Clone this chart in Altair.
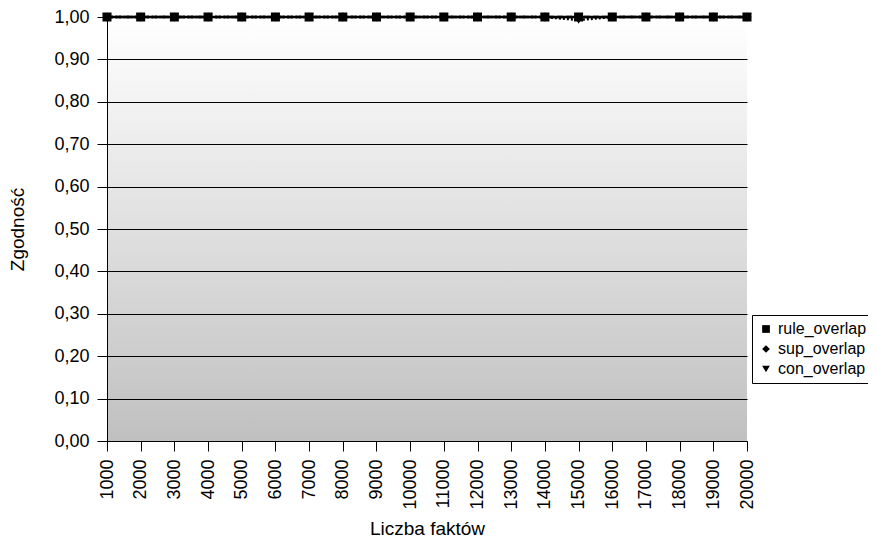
import altair as alt
import pandas as pd

facts = [1000, 2000, 3000, 4000, 5000, 6000, 7000, 8000, 9000, 10000,
         11000, 12000, 13000, 14000, 15000, 16000, 17000, 18000, 19000, 20000]
rule_overlap = [1.00] * 20
sup_overlap = [1.00] * 20
con_overlap = [1.00, 1.00, 1.00, 1.00, 1.00, 1.00, 1.00, 1.00, 1.00, 1.00,
               1.00, 1.00, 1.00, 1.00, 0.993, 1.00, 1.00, 1.00, 1.00, 1.00]
series_names = ["rule_overlap", "sup_overlap", "con_overlap"]
y_ticks = [0.0, 0.1, 0.2, 0.3, 0.4, 0.5, 0.6, 0.7, 0.8, 0.9, 1.0]

rows = []
for name, vals, order in [("con_overlap", con_overlap, 0),
                          ("sup_overlap", sup_overlap, 1),
                          ("rule_overlap", rule_overlap, 2)]:
    for f, v in zip(facts, vals):
        rows.append({"facts": f, "value": v, "series": name,
                     "dash": name, "order": order})
df = pd.DataFrame(rows)

W, H = 640, 424
FONT = "Liberation Sans"

bg = alt.Chart(pd.DataFrame({"a": [0]})).mark_rect(
    color=alt.Gradient(
        gradient="linear",
        stops=[alt.GradientStop(color="#ffffff", offset=0),
               alt.GradientStop(color="#c0c0c0", offset=1)],
        x1=0, x2=0, y1=0, y2=1,
    )
).encode(x=alt.value(0), x2=alt.value(W), y=alt.value(0), y2=alt.value(H))

x_enc = alt.X("facts:Q",
              scale=alt.Scale(domain=[1000, 20000], nice=False, zero=False),
              axis=alt.Axis(values=facts, format="d", labelAngle=270,
                            title="Liczba faktów", grid=False,
                            tickSize=10, labelPadding=8, titlePadding=10,
                            domainColor="black", tickColor="black"))
y_enc = alt.Y("value:Q",
              scale=alt.Scale(domain=[0, 1], nice=False),
              axis=alt.Axis(values=y_ticks,
                            labelExpr="replace(format(datum.value, '.2f'), '.', ',')",
                            title="Zgodność", grid=True, gridColor="black",
                            gridOpacity=1, tickSize=10, labelPadding=8,
                            titlePadding=26, domainColor="black",
                            tickColor="black", zindex=1))

dash_scale = alt.Scale(domain=series_names, range=[[1, 0], [6, 3], [2, 2]])
shape_scale = alt.Scale(domain=series_names,
                        range=["square", "diamond", "triangle-down"])

lines = alt.Chart(df).mark_line(color="black", strokeWidth=2.5).encode(
    x=x_enc, y=y_enc,
    detail="series:N",
    strokeDash=alt.StrokeDash("dash:N", scale=dash_scale, legend=None),
    order="order:Q",
)

points = alt.Chart(df).mark_point(filled=True, color="black", size=81, opacity=1).encode(
    x=x_enc, y=y_enc,
    shape=alt.Shape("series:N", scale=shape_scale, title=None,
                    legend=alt.Legend(orient="none", legendX=645, legendY=298,
                                      strokeColor="black", fillColor="white",
                                      padding=6, labelFontSize=16,
                                      labelFont=FONT, symbolSize=60,
                                      symbolFillColor="black",
                                      symbolStrokeColor="black",
                                      rowPadding=4, labelLimit=300)),
    order="order:Q",
)

chart = alt.layer(bg, lines, points).properties(
    width=W, height=H,
    autosize=alt.AutoSizeParams(type="none"),
    padding={"left": 99, "top": 9, "right": 121, "bottom": 98},
).resolve_legend(strokeDash="independent", shape="independent").configure(
    font=FONT,
    view=alt.ViewConfig(stroke=None),
    axis=alt.AxisConfig(
        labelFont=FONT, titleFont=FONT, labelFontSize=18, titleFontSize=19,
        titleFontWeight="normal", labelColor="black", titleColor="black",
    ),
)

chart.save("out.html", embed_options={"renderer": "svg", "actions": False})
